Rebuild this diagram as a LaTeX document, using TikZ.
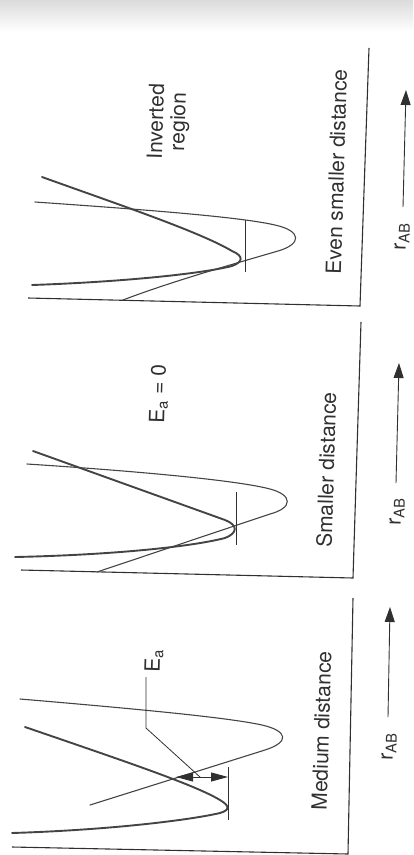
\documentclass[tikz,border=0pt]{standalone}
\usepackage{fontspec}
\setmainfont{TeX Gyre Heros}
\usetikzlibrary{arrows.meta}
\definecolor{ink}{HTML}{303030}
\definecolor{inkc}{HTML}{444444}
\begin{document}
\begin{tikzpicture}[x=1pt,y=-1pt,
  axis/.style={draw=ink, line width=1.1pt},
  boldc/.style={draw=inkc, line width=1.9pt, line join=round, line cap=round},
  thinc/.style={draw=inkc, line width=1.1pt, line join=round, line cap=round},
  tickl/.style={draw=ink, line width=0.8pt},
  lbl/.style={text=ink, font=\fontsize{21}{25}\selectfont, rotate=88.3, anchor=base, inner sep=0pt},
  rarrow/.style={draw=ink, line width=0.9pt, -{Triangle[length=15pt,width=10pt]}},
  eaarrow/.style={draw=ink, line width=0.9pt, {Triangle[length=17pt,width=9pt]}-{Triangle[length=17pt,width=9pt]}},
  leader/.style={draw=ink, line width=0.8pt}
]
\useasboundingbox (0,0) rectangle (413,855);
\fill[top color=black!14, bottom color=white, draw=none] (0,0) rectangle (413,32);

% ---------- panel 3 (top): even smaller distance ----------
\coordinate (b3l) at (28,298);
\coordinate (b3c) at (360,306);
\coordinate (b3t) at (369,48);
\draw[axis] (b3l) -- (b3c) -- (b3t);
\draw[thinc] (35,202) .. controls (150,210) and (240,217) .. (275,225)
  .. controls (302,231) and (302,244) .. (278,251)
  .. controls (230,265) and (170,282) .. (123,300);
\draw[boldc] (42,177) .. controls (120,205) and (200,232) .. (232,251)
  .. controls (244,256) and (243,262) .. (232,266)
  .. controls (200,274) and (120,282) .. (32,285);
\coordinate (t3a) at (245,220);
\coordinate (t3b) at (245,272);
\draw[tickl] (t3a) -- (t3b);
\node[lbl] (inv1) at (163,122) {Inverted};
\node[lbl] (inv2) at (185,122) {region};
\node[lbl] (eve) at (344,172) {Even smaller distance};
\node[lbl] (r3) at (406,237) {r\textsubscript{AB}};
\coordinate (a3s) at (403,207);
\coordinate (a3e) at (406,90);
\draw[rarrow] (a3s) -- (a3e);

% ---------- panel 2 (middle): smaller distance ----------
\coordinate (b2l) at (21,570);
\coordinate (b2c) at (353,578);
\coordinate (b2t) at (361,322);
\draw[axis] (b2l) -- (b2c) -- (b2t);
\draw[thinc] (27,464) .. controls (150,472) and (240,481) .. (270,489)
  .. controls (293,495) and (293,508) .. (270,514) -- (97,572);
\draw[boldc] (33,451) -- (225,520)
  .. controls (238,525) and (238,533) .. (225,538)
  .. controls (190,547) and (110,555) .. (15,557);
\coordinate (t2a) at (236,492);
\coordinate (t2b) at (236,545);
\draw[tickl] (t2a) -- (t2b);
\node[lbl] (ea2) at (165,394) {E\textsubscript{a} = 0};
\node[lbl] (sma) at (334,470) {Smaller distance};
\node[lbl] (r2) at (401,512) {r\textsubscript{AB}};
\coordinate (a2s) at (396,483);
\coordinate (a2e) at (399,363);
\draw[rarrow] (a2s) -- (a2e);

% ---------- panel 1 (bottom): medium distance ----------
\coordinate (b1l) at (12,847);
\coordinate (b1c) at (348,854);
\coordinate (b1t) at (353,598);
\draw[axis] (b1l) -- (b1c) -- (b1t);
\draw[thinc] (20,699) .. controls (150,710) and (230,718) .. (262,725)
  .. controls (288,731) and (290,742) .. (265,750) -- (90,805);
\draw[boldc] (25,727) .. controls (130,763) and (195,785) .. (220,800)
  .. controls (230,806) and (230,810) .. (220,813)
  .. controls (190,820) and (110,830) .. (12,833);
\coordinate (t1a) at (228,767);
\coordinate (t1b) at (228,820);
\draw[tickl] (t1a) -- (t1b);
\coordinate (x1) at (176,777);
\coordinate (x1e) at (228,777);
\draw[eaarrow] (x1) -- (x1e);
\node[lbl] (ea1) at (160,661) {E\textsubscript{a}};
\coordinate (ld1) at (146,677);
\coordinate (ld2) at (146,728);
\coordinate (ld3) at (200,777);
\draw[leader] (ld1) -- (ld2) -- (ld3);
\node[lbl] (med) at (329,731) {Medium distance};
\node[lbl] (r1) at (393,747) {r\textsubscript{AB}};
\coordinate (a1s) at (388,717);
\coordinate (a1e) at (390,607);
\draw[rarrow] (a1s) -- (a1e);
\end{tikzpicture}
\end{document}
